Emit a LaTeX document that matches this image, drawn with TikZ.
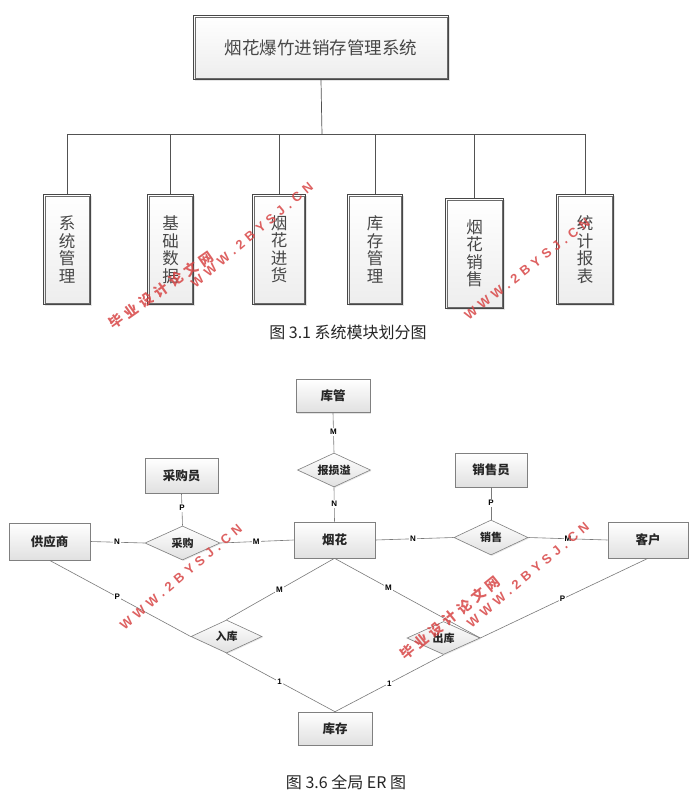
\documentclass[tikz,border=0pt]{standalone}
\usepackage{fontspec}
\setmainfont{Noto Sans CJK SC}
\newfontfamily\labfont{Liberation Sans}
\usetikzlibrary{shapes.geometric,shadows}
\definecolor{wmred}{RGB}{216,70,70}
\begin{document}
\begin{tikzpicture}[x=1pt,y=-1pt,
  modbox/.style={rectangle, draw=black!72, line width=0.65pt,
    top color=white, bottom color=black!7, inner sep=0pt, text=black!72, align=center,
    font=\fontsize{16.5}{17.5}\selectfont,
    drop shadow={opacity=0.2, shadow xshift=1.2pt, shadow yshift=-1.2pt}},
  modinner/.style={draw=black!58, line width=0.55pt},
  tline/.style={draw=black!68, line width=0.7pt},
  ent/.style={rectangle, draw=black!50, line width=0.6pt, top color=white, bottom color=black!12,
    inner sep=0pt, font=\fontsize{12.5}{14}\selectfont\bfseries, text=black!85,
    drop shadow={opacity=0.22, shadow xshift=1.2pt, shadow yshift=-1.2pt}},
  rel/.style={diamond, draw=black!50, line width=0.6pt, top color=white, bottom color=black!12,
    inner sep=0pt, drop shadow={opacity=0.18, shadow xshift=1pt, shadow yshift=-1pt}},
  rtext/.style={font=\fontsize{11}{12}\selectfont\bfseries, text=black!85},
  eline/.style={draw=black!52, line width=0.6pt},
  card/.style={fill=white, inner sep=1pt, font=\labfont\bfseries\fontsize{8}{9}\selectfont},
  captxt/.style={font=\fontsize{16}{18}\selectfont, text=black!85},
  wmen/.style={text=wmred, opacity=0.85, font=\labfont\bfseries\fontsize{13}{14}\selectfont\addfontfeatures{LetterSpace=36}},
  wmcn/.style={text=wmred, opacity=0.85, font=\bfseries\fontsize{14}{15}\selectfont\addfontfeatures{LetterSpace=30}}
]
\useasboundingbox (0,0) rectangle (696,804);
\fill[white] (0,0) rectangle (696,804);

% ---------- module chart ----------
\node[modbox, minimum width=255.4, minimum height=64.4] (title) at (321,47.5)
  {\fontsize{17.5}{19}\selectfont 烟花爆竹进销存管理系统};
\node[modbox, minimum width=47.4, minimum height=110.4] (m1) at (67,249.5) {系\\统\\管\\理};
\node[modbox, minimum width=46.4, minimum height=110.4] (m2) at (170.5,249.5) {基\\础\\数\\据};
\node[modbox, minimum width=53.4, minimum height=110.4] (m3) at (279,249.5) {烟\\花\\进\\货};
\node[modbox, minimum width=55.4, minimum height=110.4] (m4) at (375,249.5) {库\\存\\管\\理};
\node[modbox, minimum width=58.4, minimum height=110.4] (m5) at (474.5,253.5) {烟\\花\\销\\售};
\node[modbox, minimum width=57.4, minimum height=110.4] (m6) at (585,249.5) {统\\计\\报\\表};
\foreach \n in {title,m1,m2,m3,m4,m5,m6}
  \draw[modinner] ([shift={(2.2pt,-2.2pt)}]\n.north west) rectangle ([shift={(-2.2pt,2.2pt)}]\n.south east);

\coordinate (bus) at (322,134.5);
\draw[tline] (title.south) -- (bus);
\draw[tline] (m1.north) |- (bus);
\draw[tline] (m2.north) |- (bus);
\draw[tline] (m3.north) |- (bus);
\draw[tline] (m4.north) |- (bus);
\draw[tline] (m5.north) |- (bus);
\draw[tline] (m6.north) |- (bus);

\node[captxt] (cap1) at (348,332) {图 3.1 系统模块划分图};

% ---------- ER diagram ----------
\node[ent, minimum width=74, minimum height=33] (kuguan) at (333,396) {库管};
\node[rel, minimum width=73, minimum height=34, label={[rtext]center:报损溢}] (bsy) at (334,470) {};
\node[ent, minimum width=81, minimum height=36] (yanhua) at (334.5,540) {烟花};
\node[ent, minimum width=73, minimum height=35] (cgy) at (181.5,475.5) {采购员};
\node[rel, minimum width=75, minimum height=34, label={[rtext]center:采购}] (cg) at (182.5,543) {};
\node[ent, minimum width=81, minimum height=37] (gys) at (49.5,541.5) {供应商};
\node[ent, minimum width=72, minimum height=34] (xsy) at (491,470) {销售员};
\node[rel, minimum width=74, minimum height=35, label={[rtext]center:销售}] (xs) at (491,537.5) {};
\node[ent, minimum width=80, minimum height=36] (kh) at (648,540) {客户};
\node[rel, minimum width=71, minimum height=33, label={[rtext]center:入库}] (rk) at (226.5,636.5) {};
\node[rel, minimum width=73, minimum height=33, label={[rtext]center:出库}] (ck) at (443.5,638) {};
\node[ent, minimum width=74, minimum height=33] (kc) at (335,728.5) {库存};

\draw[eline] (kuguan.south) -- node[card, pos=0.48] {M} (bsy.north);
\draw[eline] (bsy.south) -- node[card, pos=0.49] {N} (yanhua.north);
\draw[eline] (cgy.south) -- node[card, pos=0.45] {P} (cg.north);
\draw[eline] (gys.east) -- node[card, pos=0.49] {N} (cg.west);
\draw[eline] (cg.east) -- node[card, pos=0.49] {M} (yanhua.west);
\draw[eline] (xsy.south) -- node[card, pos=0.48] {P} (xs.north);
\draw[eline] (yanhua.east) -- node[card, pos=0.48] {N} (xs.west);
\draw[eline] (xs.east) -- node[card, pos=0.5] {M} (kh.west);
\draw[eline] (yanhua.south) -- node[card, pos=0.51] {M} (rk.north);
\draw[eline] (yanhua.south) -- node[card, pos=0.37] {M} (ck.east);
\draw[eline] (gys.south) -- node[card, pos=0.48] {P} (rk.west);
\draw[eline] (kh.south) -- node[card, pos=0.51] {P} (ck.east);
\draw[eline] (rk.south) -- node[card, pos=0.49] {1} (kc.north);
\draw[eline] (ck.south) -- node[card, pos=0.5] {1} (kc.north);

\node[captxt] (cap2) at (346,782) {图 3.6 全局 ER 图};

% ---------- watermarks ----------
\node[wmcn, rotate=35] (wm1) at (161,290) {毕业设计论文网};
\node[wmen, rotate=40] (wm2) at (252,235) {WWW.2BYSJ.CN};
\node[wmen, rotate=38] (wm3) at (527,269) {WWW.2BYSJ.CN};
\node[wmen, rotate=40] (wm4) at (181,577) {WWW.2BYSJ.CN};
\node[wmcn, rotate=39] (wm5) at (450,618) {毕业设计论文网};
\node[wmen, rotate=40] (wm6) at (528,575) {WWW.2BYSJ.CN};
\end{tikzpicture}
\end{document}
